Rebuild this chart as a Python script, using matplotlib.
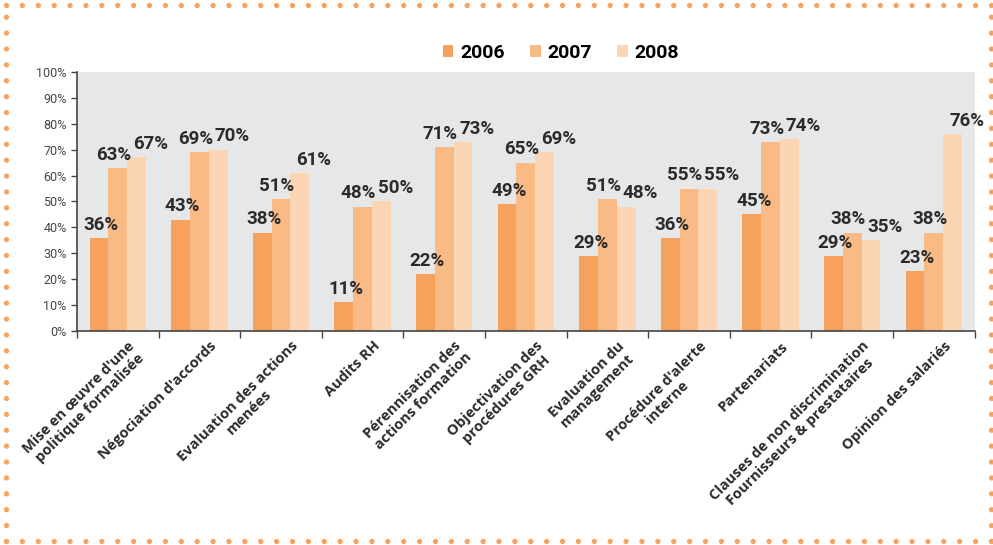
import numpy as np
import matplotlib.pyplot as plt
from matplotlib.lines import Line2D
import matplotlib.transforms as mtransforms

categories = ["Mise en œuvre d'une\npolitique formalisée",
              "Négociation d'accords",
              "Evaluation des actions\nmenées",
              "Audits RH",
              "Pérennisation des\nactions formation",
              "Objectivation des\nprocédures GRH",
              "Evaluation du\nmanagement",
              "Procédure d'alerte\ninterne",
              "Partenariats",
              "Clauses de non discrimination\nFournisseurs & prestataires",
              "Opinion des salariés"]
years = ["2006", "2007", "2008"]
v2006 = [36, 43, 38, 11, 22, 49, 29, 36, 45, 29, 23]
v2007 = [63, 69, 51, 48, 71, 65, 51, 55, 73, 38, 38]
v2008 = [67, 70, 61, 50, 73, 69, 48, 55, 74, 35, 76]

colors = ["#F7A25C", "#F9BA86", "#FCD5B5"]
series = [v2006, v2007, v2008]

fig = plt.figure(figsize=(9.93, 5.45), dpi=100)
ax = fig.add_axes([0.0775, 0.3927, 0.904, 0.4753])
ax.set_facecolor("#E6E7E9")

x = np.arange(len(categories))
w = 0.23
lab_dx = [2, -4, 14]  # pixel shifts of value labels
for i, (vals, c) in enumerate(zip(series, colors)):
    pos = x + (i - 1) * w
    ax.bar(pos, vals, w, color=c, label=years[i], zorder=2)
    for px, v in zip(pos, vals):
        ax.annotate(f"{v}%", (px, v), xytext=(lab_dx[i] * 0.72, 3),
                    textcoords="offset points", ha="center", va="bottom",
                    fontsize=13.5, fontweight="bold", color="#2b2b2b",
                    family="Roboto", zorder=3)

ax.set_xlim(-0.5, len(categories) - 0.5)
ax.set_ylim(0, 100)
ax.set_yticks(np.arange(0, 101, 10))
ax.set_yticklabels([f"{t}%" for t in range(0, 101, 10)], fontsize=9,
                   color="#444444", family="Roboto")
ax.set_xticks(np.arange(-0.5, len(categories), 1.0))
ax.set_xticklabels([])
ax.tick_params(axis="x", length=5, width=1, color="#444444", direction="out")
ax.tick_params(axis="y", length=4, width=1, color="#444444", direction="out")
for s in ["top", "right"]:
    ax.spines[s].set_visible(False)
for s in ["left", "bottom"]:
    ax.spines[s].set_color("#444444")
    ax.spines[s].set_linewidth(1.2)

off = mtransforms.ScaledTranslation(10 / 100, -8 / 100, fig.dpi_scale_trans)
for xi, lab in zip(x, categories):
    ax.text(xi, 0, lab, transform=ax.get_xaxis_transform() + off,
            rotation=45, rotation_mode="anchor", ha="right", va="top",
            multialignment="center", fontsize=10.5, fontweight="bold",
            color="#2b2b2b", family="Open Sans", linespacing=1.1)

fig.legend(loc="center", bbox_to_anchor=(0.565, 0.903), ncol=3,
           frameon=False, handlelength=0.55, handleheight=0.55,
           columnspacing=1.3, handletextpad=0.35,
           prop={"family": "Roboto", "weight": "bold", "size": 14})

# dotted orange frame
dot = dict(color="#F9A25E", lw=3.8, dash_capstyle="round",
           linestyle=(0, (0.01, 3.0)), transform=fig.transFigure)
W, H = 993, 545
x0, x1 = 6 / W, 991 / W
y0, y1 = 1 - 541 / H, 1 - 5 / H
fig.add_artist(Line2D([x0, x1], [y1, y1], **dot))
fig.add_artist(Line2D([x0, x0], [y0, y1], **dot))
fig.add_artist(Line2D([x0, x1], [y0, y0], **dot))
fig.add_artist(Line2D([x1, x1], [y0, y1], **dot))

plt.savefig("out.png", dpi=100)
